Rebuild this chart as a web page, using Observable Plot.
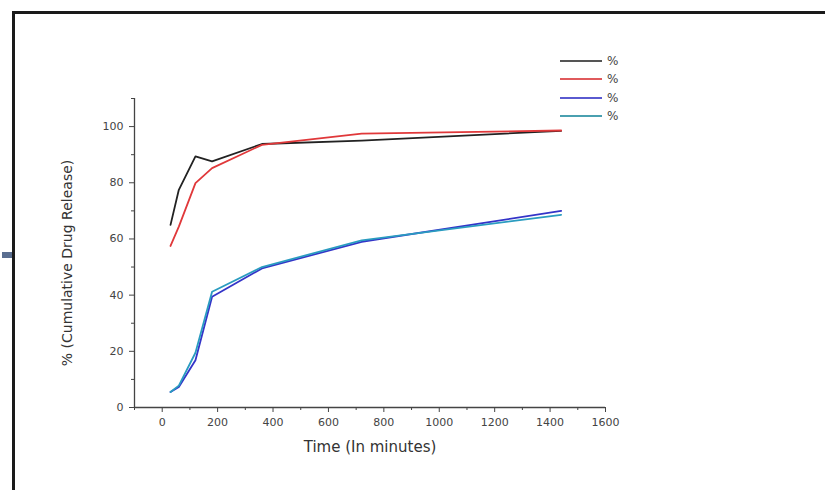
<!DOCTYPE html>
<html><head><meta charset="utf-8">
<script src="https://cdn.jsdelivr.net/npm/d3@7"></script>
<script src="https://cdn.jsdelivr.net/npm/@observablehq/plot@0.6"></script>
<style>
html,body{margin:0;padding:0;background:#fff;width:825px;height:490px;overflow:hidden;font-family:"DejaVu Sans",Arial,sans-serif;}
#frameTop{position:absolute;left:12px;top:11px;width:813px;height:3px;background:#1a1a1a;}
#frameLeft{position:absolute;left:12px;top:11px;width:3px;height:479px;background:#1a1a1a;}
#stub{position:absolute;left:2px;top:252px;width:10px;height:6px;background:#5a6e90;}
#chart{position:absolute;left:0;top:0;}
#legend{position:absolute;left:560px;top:52px;font-size:12px;color:#444;}
#legend .row{display:flex;align-items:center;height:18.3px;}
#legend .sw{width:42px;height:2px;margin-right:5px;}
</style></head>
<body>
<div id="chart"></div>
<div id="frameTop"></div>
<div id="frameLeft"></div>
<div id="stub"></div>
<div id="legend"></div>
<script>
const times = [30, 60, 120, 180, 360, 720, 1440];
const seriesNames = ["%", "%", "%", "%"];
const seriesColors = ["#222222", "#e0383a", "#3434c8", "#2a9cc0"];
const legendColors = ["#555555", "#e05a5c", "#5a5ad0", "#4aa0b0"];
const blackVals = [65, 77.5, 89.4, 87.6, 93.8, 95, 98.5];
const redVals = [57.5, 64.4, 79.9, 85.2, 93.5, 97.5, 98.6];
const blueVals = [5.5, 7.3, 16.8, 39.4, 49.5, 59, 70];
const tealVals = [5.5, 7.8, 19.5, 41.2, 50, 59.5, 68.6];
const xMajor = d3.range(0, 1601, 200);
const xMinor = d3.range(-100, 1600, 200);
const yMajor = d3.range(0, 101, 20);
const yMinor = d3.range(10, 111, 20);
const xLabel = "Time (In minutes)";
const yLabel = "% (Cumulative Drug Release)";

const allVals = [blackVals, redVals, blueVals, tealVals];
const data = [];
allVals.forEach((vals, s) => vals.forEach((v, i) => data.push({t: times[i], v, s})));

const plot = Plot.plot({
  width: 825, height: 490,
  marginLeft: 134, marginRight: 220, marginTop: 98, marginBottom: 83,
  style: {fontFamily: '"DejaVu Sans", Arial, sans-serif', fontSize: "11px", color: "#444", background: "transparent"},
  x: {domain: [-100, 1600]},
  y: {domain: [0, 110]},
  marks: [
    Plot.ruleY([0], {stroke: "#444", strokeWidth: 1.3}),
    Plot.ruleX([-100], {stroke: "#444", strokeWidth: 1.3}),
    Plot.axisX({ticks: xMajor, tickSize: 5, tickPadding: 6, tickFormat: d => String(d), stroke: "#444", fill: "#444", label: null}),
    Plot.axisX({ticks: xMinor, tickSize: 3, text: null, stroke: "#444", label: null}),
    Plot.axisY({ticks: yMajor, tickSize: 5, tickPadding: 6, tickFormat: d => String(d), stroke: "#444", fill: "#444", label: null}),
    Plot.axisY({ticks: yMinor, tickSize: 3, text: null, stroke: "#444", label: null}),
    Plot.line(data, {x: "t", y: "v", z: "s", stroke: d => seriesColors[d.s], strokeWidth: 1.8, curve: "linear"}),
    Plot.text([xLabel], {frameAnchor: "bottom", dy: 44, text: d => d, fontSize: 15, fill: "#333"}),
    Plot.text([yLabel], {frameAnchor: "left", textAnchor: "middle", dx: -67, dy: 10, rotate: -90, text: d => d, fontSize: 14, fill: "#333"})
  ]
});
document.getElementById("chart").appendChild(plot);

const lg = document.getElementById("legend");
seriesNames.forEach((n, i) => {
  const r = document.createElement("div"); r.className = "row";
  const sw = document.createElement("div"); sw.className = "sw"; sw.style.background = legendColors[i];
  const t = document.createElement("span"); t.textContent = n;
  r.appendChild(sw); r.appendChild(t); lg.appendChild(r);
});
</script>
</body></html>
